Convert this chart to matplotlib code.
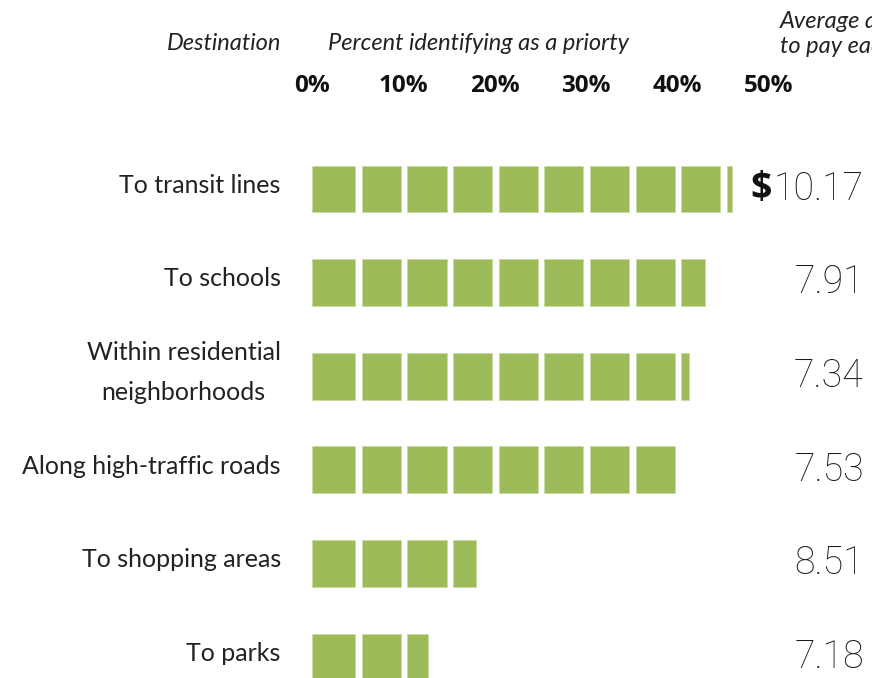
import numpy as np
import matplotlib.pyplot as plt

# destinations, share naming each as a priority (%), and average amount willing to pay ($)
destinations = ['To transit lines', 'To schools', 'Within residential\nneighborhoods',
                'Along high-traffic roads', 'To shopping areas', 'To parks']
percent = [46.0, 43.0, 41.3, 40.0, 17.9, 12.7]
pay = [10.17, 7.91, 7.34, 7.53, 8.51, 7.18]
ticks = [0, 10, 20, 30, 40, 50]

green = '#9dbb59'
txt = '#222222'
block = 5.0  # each square stands for 5 percent

plt.rcParams['font.family'] = ['Lato', 'DejaVu Sans']

fig = plt.figure(figsize=(8.72, 6.78), dpi=100)
ax = fig.add_axes([312.3 / 872, 0, 456.5 / 872, (678 - 112) / 678])

# split every bar into 5% squares with small gaps
for i, v in enumerate(percent):
    n = int(np.ceil(v / block))
    k = np.arange(n)
    lefts = k * block + 0.4
    lefts[0] = 0
    rights = np.minimum(k * block + block - 0.3, v)
    ax.barh(np.full(n, i), rights - lefts, left=lefts, height=0.5, color=green,
            edgecolor='#c9dba3', linewidth=0.6)

ax.set_xlim(0, 50)
ax.set_ylim(5.224, -0.823)

ax.xaxis.tick_top()
ax.set_xticks(ticks)
ax.set_xticklabels([f'{t}%' for t in ticks], fontsize=17.5, fontweight='bold',
                   color='#111111', family=['Open Sans', 'DejaVu Sans'])
ax.tick_params(axis='x', length=0, pad=10)
ax.set_yticks([])
for s in ax.spines.values():
    s.set_visible(False)

# destination names
for i, name in enumerate(destinations):
    ax.text(-3.45, i - 0.04, name, ha='right', va='center', multialignment='center',
            fontsize=18, color=txt, linespacing=1.85, clip_on=False)

# dollar amounts
for i, p in enumerate(pay):
    t = ax.text(60.4, i, f'{p:.2f}', ha='right', va='center', fontsize=27,
                fontweight='light', color='#1a1a1a', clip_on=False,
                family=['Roboto', 'DejaVu Sans'])
    if i == 0:
        ax.annotate('$', xy=(0, 0.5), xycoords=t, xytext=(-1.5, 0),
                    textcoords='offset points', ha='right', va='center',
                    fontsize=27, fontweight='bold', color='#111111',
                    family=['Open Sans', 'DejaVu Sans'])

# column headers
fig.text(281 / 872, 1 - 44 / 678, 'Destination', ha='right', va='center',
         fontsize=17, style='italic', color=txt)
fig.text(479 / 872, 1 - 44 / 678, 'Percent identifying as a priorty', ha='center',
         va='center', fontsize=17, style='italic', color=txt)
fig.text(780 / 872, 1 - 34 / 678, 'Average amount willing\nto pay each year', ha='left',
         va='center', fontsize=17, style='italic', color=txt, linespacing=1.25)

fig.savefig('out.png', dpi=100)
